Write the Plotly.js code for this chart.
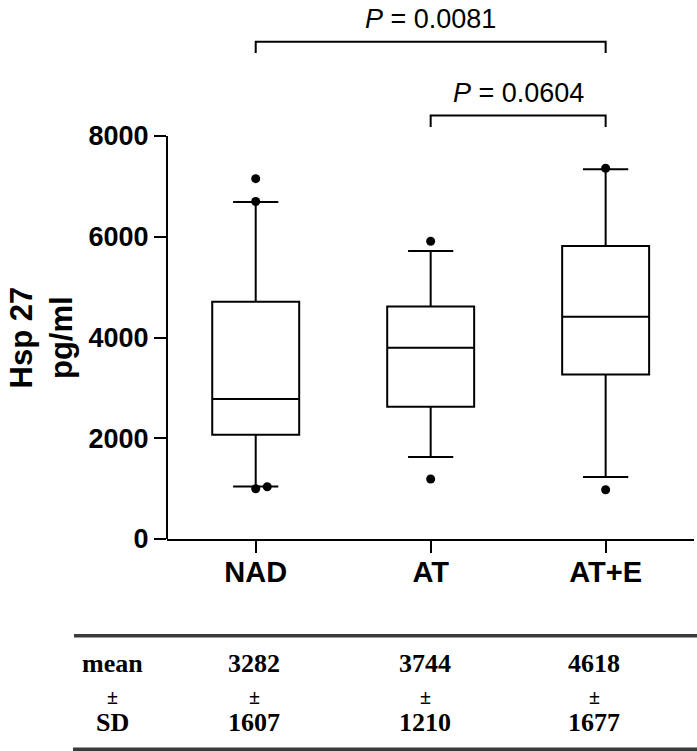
<!DOCTYPE html>
<html><head><meta charset="utf-8">
<script src="https://cdn.plot.ly/plotly-3.0.1.min.js"></script>
<style>html,body{margin:0;padding:0;background:#fff}</style>
</head><body><div id="chart" style="width:697px;height:751px"></div>
<script>
// ---------------- data ----------------
const categories = ['NAD', 'AT', 'AT+E'];
const q1Values = [2068, 2624, 3266];
const medianValues = [2781, 3795, 4410];
const q3Values = [4711, 4614, 5818];
const lowerWhiskers = [1043, 1627, 1230];
const upperWhiskers = [6690, 5719, 7340];
const outlierGroups = ['NAD', 'NAD', 'NAD', 'NAD', 'AT', 'AT', 'AT+E', 'AT+E'];
const outlierValues = [7153, 6700, 998, 1038, 5911, 1190, 7360, 978];
const yTickValues = [0, 2000, 4000, 6000, 8000];
const meanValues = [3282, 3744, 4618];
const sdValues = [1607, 1210, 1677];
const compareFrom = ['NAD', 'AT'];
const compareTo = ['AT+E', 'AT+E'];
const pValues = ['0.0081', '0.0604'];
const yTitleLines = ['Hsp 27', 'pg/ml'];
const tableRowLabels = ['mean', '±', 'SD'];

// ---------------- layout geometry ----------------
const W = 697, H = 751;
const M = {l: 167, r: 3, t: 0, b: 212};
const plotW = W - M.l - M.r, plotH = H - M.t - M.b;
const yTopPx = 136; // pixel of highest tick
const yMaxTick = Math.max(...yTickValues);
const yRangeTop = yMaxTick * plotH / (plotH - yTopPx);
const xp = px => (px - M.l) / plotW;
const yp = py => (M.t + plotH - py) / plotH;

const sans = 'Liberation Sans, Arial, sans-serif';
const serif = 'Liberation Serif, Times New Roman, serif';
const idx = c => categories.indexOf(c);

// outliers: small horizontal shift when two points in a group nearly overlap
const outX = [], outY = [];
const placed = {};
outlierGroups.forEach((g, i) => {
  const v = outlierValues[i];
  placed[g] = placed[g] || [];
  const clash = placed[g].filter(p => Math.abs(p - v) < 150).length;
  outX.push(idx(g) + clash * 0.066);
  outY.push(v);
  placed[g].push(v);
});

const traces = [
  {
    type: 'box',
    x: categories.map((c, i) => i),
    q1: q1Values, median: medianValues, q3: q3Values,
    lowerfence: lowerWhiskers, upperfence: upperWhiskers,
    boxpoints: false,
    width: 0.497,
    whiskerwidth: 0.52,
    line: {color: '#000', width: 2},
    fillcolor: 'rgba(0,0,0,0)',
    hoverinfo: 'skip',
    showlegend: false
  },
  {
    type: 'scatter', mode: 'markers',
    x: outX, y: outY,
    marker: {color: '#000', size: 9},
    cliponaxis: false,
    hoverinfo: 'skip',
    showlegend: false
  }
];

const shapes = [
  // y axis line from 0 to top tick
  {type: 'line', xref: 'paper', yref: 'y', x0: 0, x1: 0, y0: 0, y1: yMaxTick,
   line: {color: '#000', width: 2}}
];
const annotations = [];

// significance brackets
const bracketBase = 8406, bracketStep = 1467, tipDrop = 225, labelLift = 440;
compareFrom.forEach((f, i) => {
  const a = idx(f), b = idx(compareTo[i]);
  const level = (b - a) - 1;
  const yb = bracketBase + level * bracketStep;
  shapes.push({type: 'path', xref: 'x', yref: 'y',
    path: `M ${a} ${yb - tipDrop} L ${a} ${yb} L ${b} ${yb} L ${b} ${yb - tipDrop}`,
    line: {color: '#000', width: 2}});
  annotations.push({xref: 'x', yref: 'y', x: (a + b) / 2, y: yb + labelLift,
    text: '<i>P</i> = ' + pValues[i], showarrow: false, xanchor: 'center', yanchor: 'middle',
    font: {family: sans, size: 27, color: '#000'}});
});

// y axis title
annotations.push({xref: 'paper', yref: 'y', x: xp(41), y: yMaxTick / 2,
  text: yTitleLines.join('<br>'), textangle: -90, showarrow: false,
  xanchor: 'center', yanchor: 'middle',
  font: {family: sans, size: 31, weight: 'bold', color: '#000'}});

// table
const tableColPx = [112.7, 254.4, 425, 594];
const tableRowPx = [663, 697, 722];
const lineColor = '#3a3a3a';
shapes.push({type: 'line', xref: 'paper', yref: 'paper', x0: xp(74), x1: xp(W), y0: yp(635.7), y1: yp(635.7),
  line: {color: lineColor, width: 3.5}});
shapes.push({type: 'line', xref: 'paper', yref: 'paper', x0: xp(73), x1: xp(W), y0: yp(749.3), y1: yp(749.3),
  line: {color: lineColor, width: 3.5}});
const cols = [tableRowLabels].concat(meanValues.map((m, i) => [String(m), '±', String(sdValues[i])]));
cols.forEach((col, c) => {
  col.forEach((txt, r) => {
    annotations.push({xref: 'paper', yref: 'paper', x: xp(tableColPx[c]), y: yp(tableRowPx[r]),
      text: txt, showarrow: false, xanchor: 'center', yanchor: 'middle',
      font: {family: serif, size: r === 1 ? 20 : 26, weight: 'bold', color: '#000'}});
  });
});

const layout = {
  width: W, height: H,
  margin: M,
  paper_bgcolor: '#fff', plot_bgcolor: '#fff',
  showlegend: false,
  xaxis: {
    range: [-0.507, 2.505],
    tickvals: categories.map((c, i) => i), ticktext: categories,
    showline: true, linecolor: '#000', linewidth: 2,
    ticks: 'outside', ticklen: 12, tickwidth: 2, tickcolor: '#000',
    ticklabelstandoff: -6,
    showgrid: false, zeroline: false,
    tickfont: {family: sans, size: 29, weight: 'bold', color: '#000'}
  },
  yaxis: {
    range: [0, yRangeTop],
    tickvals: yTickValues, ticktext: yTickValues.map(String),
    showline: false,
    ticks: 'outside', ticklen: 12, tickwidth: 2, tickcolor: '#000',
    showgrid: false, zeroline: false,
    tickfont: {family: sans, size: 27, weight: 'bold', color: '#000'}
  },
  shapes: shapes,
  annotations: annotations
};

Plotly.newPlot('chart', traces, layout, {displayModeBar: false, staticPlot: true});
</script></body></html>
